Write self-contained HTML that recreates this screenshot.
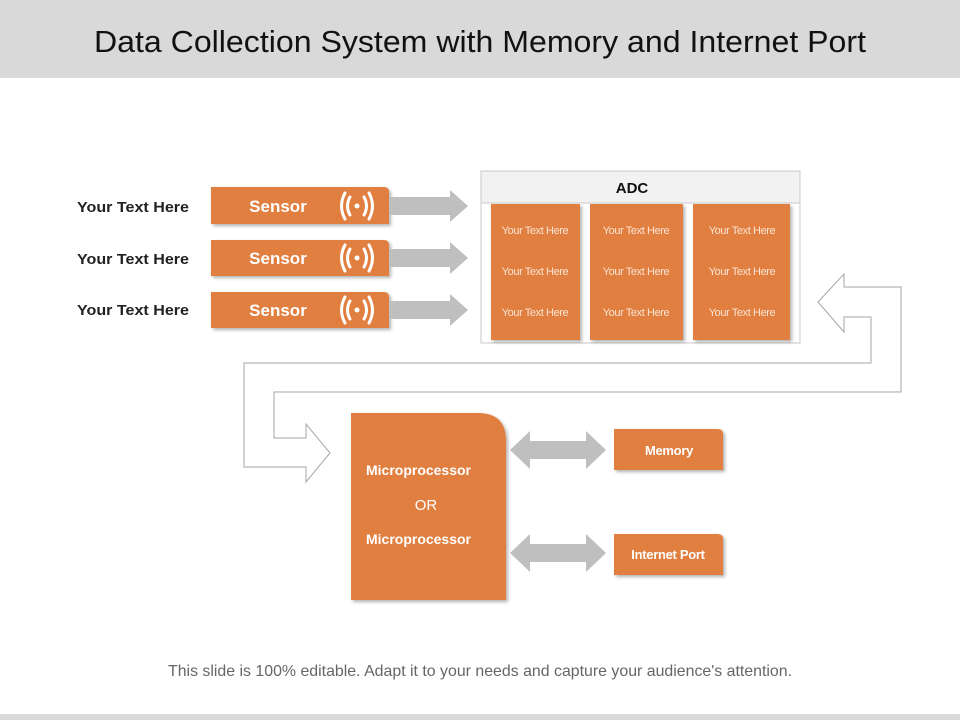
<!DOCTYPE html>
<html><head><meta charset="utf-8"><style>
html,body{margin:0;padding:0;background:#fff}
svg{display:block}
text{font-family:"Liberation Sans",Arial,sans-serif}
</style></head><body>
<svg width="960" height="720" viewBox="0 0 960 720" xmlns="http://www.w3.org/2000/svg">
<defs>
<filter id="sh" x="-10%" y="-10%" width="130%" height="130%"><feDropShadow dx="2" dy="2" stdDeviation="1.5" flood-color="#000" flood-opacity="0.3"/></filter>
</defs>
<rect x="0" y="0" width="960" height="78" fill="#d9d9d9"/>
<text x="480" y="52" font-size="31" text-anchor="middle" fill="#111" textLength="772" lengthAdjust="spacingAndGlyphs">Data Collection System with Memory and Internet Port</text>
<rect x="0" y="714" width="960" height="6" fill="#d9d9d9"/>

<g font-size="15" font-weight="bold" fill="#222">
<text x="77" y="212" textLength="112" lengthAdjust="spacingAndGlyphs">Your Text Here</text>
<text x="77" y="264" textLength="112" lengthAdjust="spacingAndGlyphs">Your Text Here</text>
<text x="77" y="315" textLength="112" lengthAdjust="spacingAndGlyphs">Your Text Here</text>
</g>

<g id="sensors">
<path d="M211 187 H384 Q389 187 389 192 V224 H211 Z" fill="#e07f3f" filter="url(#sh)"/>
<path d="M211 240 H384 Q389 240 389 245 V276 H211 Z" fill="#e07f3f" filter="url(#sh)"/>
<path d="M211 292 H384 Q389 292 389 297 V328 H211 Z" fill="#e07f3f" filter="url(#sh)"/>
<g font-size="17" font-weight="bold" fill="#fff" text-anchor="middle">
<text x="278" y="212">Sensor</text>
<text x="278" y="264">Sensor</text>
<text x="278" y="316">Sensor</text>
</g>
<g fill="none" stroke="#fff" stroke-width="3" stroke-linecap="round">
<g transform="translate(357,206)"><path d="M-7 -9 Q-12 0 -7 9 M7 -9 Q12 0 7 9 M-12 -13 Q-19 0 -12 13 M12 -13 Q19 0 12 13"/><circle r="2.5" fill="#fff" stroke="none"/></g>
<g transform="translate(357,258)"><path d="M-7 -9 Q-12 0 -7 9 M7 -9 Q12 0 7 9 M-12 -13 Q-19 0 -12 13 M12 -13 Q19 0 12 13"/><circle r="2.5" fill="#fff" stroke="none"/></g>
<g transform="translate(357,310)"><path d="M-7 -9 Q-12 0 -7 9 M7 -9 Q12 0 7 9 M-12 -13 Q-19 0 -12 13 M12 -13 Q19 0 12 13"/><circle r="2.5" fill="#fff" stroke="none"/></g>
</g>
<g fill="#bfbfbf">
<path d="M390 197 H450 V190 L468 206 L450 222 V215 H390 Z"/>
<path d="M390 249 H450 V242 L468 258 L450 274 V267 H390 Z"/>
<path d="M390 301 H450 V294 L468 310 L450 326 V319 H390 Z"/>
</g>
</g>

<rect x="481" y="171" width="319" height="172" fill="#fff" stroke="#c8c8c8"/>
<rect x="481" y="171" width="319" height="32" fill="#f2f2f2" stroke="#c8c8c8"/>
<text x="632" y="193" font-size="15" font-weight="bold" text-anchor="middle" fill="#111">ADC</text>
<g fill="#e07f3f" filter="url(#sh)">
<rect x="491" y="204" width="89" height="136"/>
<rect x="590" y="204" width="93" height="136"/>
<rect x="693" y="204" width="97" height="136"/>
</g>
<g font-size="11" fill="#fbe3d2" text-anchor="middle" letter-spacing="-0.4">
<text x="535" y="234">Your Text Here</text><text x="535" y="275">Your Text Here</text><text x="535" y="316">Your Text Here</text>
<text x="636" y="234">Your Text Here</text><text x="636" y="275">Your Text Here</text><text x="636" y="316">Your Text Here</text>
<text x="742" y="234">Your Text Here</text><text x="742" y="275">Your Text Here</text><text x="742" y="316">Your Text Here</text>
</g>

<path d="M818 302 L844 274 V287 H901 V392 H274 V438 H306 V424 L330 453 L306 482 V467 H244 V363 H871 V317 H844 V332 Z" fill="#fff" stroke="#a6a6a6" stroke-width="1"/>

<path d="M351 413 H478 Q506 413 506 441 V600 H351 Z" fill="#e07f3f" filter="url(#sh)"/>
<g font-size="14" font-weight="bold" fill="#fff">
<text x="366" y="475" textLength="105" lengthAdjust="spacingAndGlyphs">Microprocessor</text>
<text x="426" y="510" text-anchor="middle" font-size="15" font-weight="normal">OR</text>
<text x="366" y="544" textLength="105" lengthAdjust="spacingAndGlyphs">Microprocessor</text>
</g>

<g fill="#bfbfbf">
<path d="M510 450 L530 431 V441 H586 V431 L606 450 L586 469 V459 H530 V469 Z"/>
<path d="M510 553 L530 534 V544 H586 V534 L606 553 L586 572 V562 H530 V572 Z"/>
</g>

<path d="M614 429 H718 Q723 429 723 434 V470 H614 Z" fill="#e07f3f" filter="url(#sh)"/>
<path d="M614 534 H718 Q723 534 723 539 V575 H614 Z" fill="#e07f3f" filter="url(#sh)"/>
<g font-size="13" font-weight="bold" fill="#fff" text-anchor="middle" letter-spacing="-0.3">
<text x="669" y="455">Memory</text>
<text x="668" y="559">Internet Port</text>
</g>

<text x="480" y="676" font-size="16" text-anchor="middle" fill="#666" textLength="624" lengthAdjust="spacingAndGlyphs">This slide is 100% editable. Adapt it to your needs and capture your audience's attention.</text>
</svg>
</body></html>
